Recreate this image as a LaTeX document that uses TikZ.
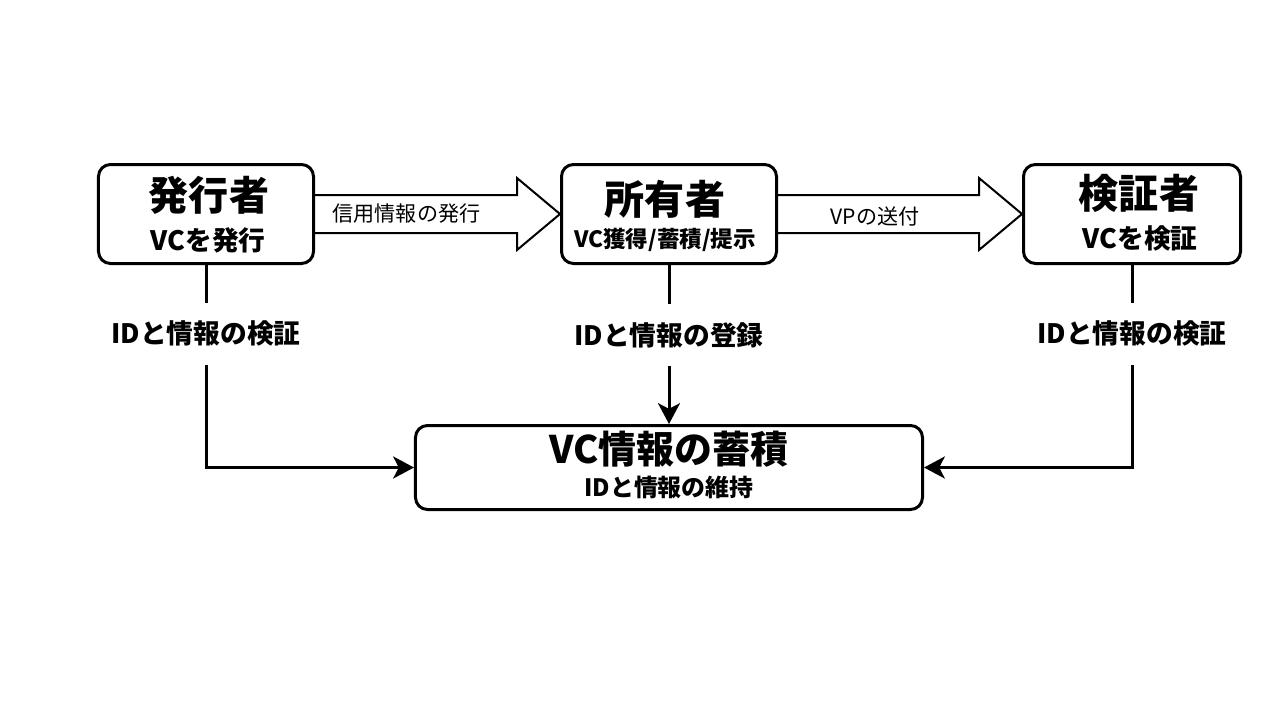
\documentclass[tikz,border=0pt]{standalone}
\usepackage{fontspec}
\newfontfamily\jp{Noto Sans CJK JP}
\usetikzlibrary{shapes,calc,arrows.meta}

\begin{document}
\begin{tikzpicture}[x=0.25mm,y=-0.25mm,
    box/.style={draw,line width=0.75mm,rounded corners=3mm,inner sep=0pt},
    ttl/.style={font=\jp\bfseries\fontsize{28.5}{30}\selectfont,inner sep=0pt},
    sub/.style={font=\jp\bfseries\fontsize{19}{21}\selectfont,inner sep=0pt},
    lbl/.style={font=\jp\bfseries\fontsize{19}{21}\selectfont,fill=white,inner xsep=1mm,inner ysep=4.6mm},
    alb/.style={font=\jp\fontsize{15}{17}\selectfont,inner sep=0pt},
    fat/.style={draw,line width=0.5mm},
    conn/.style={line width=0.75mm,-{Stealth[length=5.2mm,width=5.5mm,inset=1.4mm]}}]
    \useasboundingbox (0,0) rectangle (1280,720);
    % the three parties
    \node[box,minimum width=53.75mm,minimum height=24.75mm] (iss) at (206,214) {};
    \node[box,minimum width=53.75mm,minimum height=24.75mm] (hol) at (669,214) {};
    \node[box,minimum width=54.25mm,minimum height=24.75mm] (ver) at (1132,214) {};
    \node[box,minimum width=126.75mm,minimum height=21mm] (store) at (669,467.5) {};
    \node[ttl] (issT) at ($(iss.center)+(3,-19)$) {発行者};
    \node[sub] (issS) at ($(iss.center)+(2,26)$) {VCを発行};
    \node[ttl] (holT) at ($(hol.center)+(-4,-15)$) {所有者};
    \node[sub,font=\jp\bfseries\fontsize{16}{18}\selectfont] (holS) at ($(hol.center)+(-4,26)$) {VC獲得/蓄積/提示};
    \node[ttl] (verT) at ($(ver.center)+(7,-21)$) {検証者};
    \node[sub] (verS) at ($(ver.center)+(8,24)$) {VCを検証};
    \node[ttl,font=\jp\bfseries\fontsize{27}{29}\selectfont] (storeT) at ($(store.center)+(0,-18)$) {VC情報の蓄積};
    \node[sub,font=\jp\bfseries\fontsize{17}{19}\selectfont] (storeS) at ($(store.center)+(0,20)$) {IDと情報の維持};
    % block arrows
    \draw[fat] ($(iss.east)+(0,-19)$) -- ($(hol.west)+(-43,-19)$) -- ($(hol.west)+(-43,-36)$)
        -- (hol.west) -- ($(hol.west)+(-43,36)$) -- ($(hol.west)+(-43,19)$) -- ($(iss.east)+(0,19)$);
    \draw[fat] ($(hol.east)+(0,-19)$) -- ($(ver.west)+(-43,-19)$) -- ($(ver.west)+(-43,-36)$)
        -- (ver.west) -- ($(ver.west)+(-43,36)$) -- ($(ver.west)+(-43,19)$) -- ($(hol.east)+(0,19)$);
    \node[alb] (credit) at ($(iss.east)!0.5!(hol.west)+(-31,0)$) {信用情報の発行};
    \node[alb] (send) at ($(hol.east)!0.5!(ver.west)+(-25,2)$) {VPの送付};
    % links to the store
    \draw[conn] (iss.south) -- node[lbl,pos=0.34] (chkA) {IDと情報の検証} (iss.south |- store.west) -- (store.west);
    \draw[conn] (hol.south) -- node[lbl,pos=0.44] (reg) {IDと情報の登録} (store.north);
    \draw[conn] (ver.south) -- node[lbl,pos=0.34] (chkB) {IDと情報の検証} (ver.south |- store.east) -- (store.east);
\end{tikzpicture}
\end{document}
